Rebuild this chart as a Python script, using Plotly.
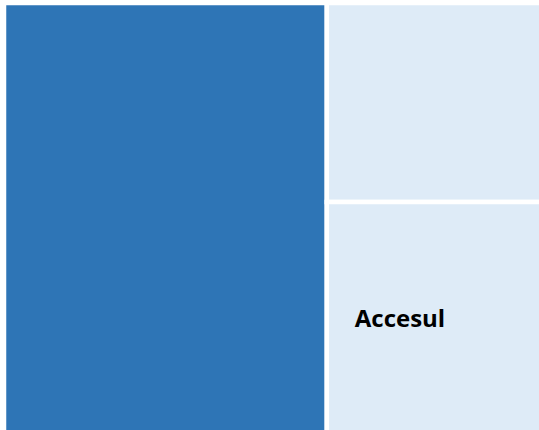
import plotly.graph_objects as go

labels = ["Categoria principală", "Altele", "Accesul"]
parents = ["", "", ""]
values = [60.0, 18.5, 21.5]
shown_text = ["", "", "\u00a0\u00a0\u00a0\u00a0Accesul"]
colors = ["#2E75B6", "#DEEBF7", "#DEEBF7"]

fig = go.Figure(go.Treemap(
    labels=labels,
    parents=parents,
    values=values,
    text=shown_text,
    texttemplate="%{text}",
    textposition="middle left",
    textfont=dict(family="Open Sans", size=24, color="#000000", weight="bold"),
    marker=dict(colors=colors, line=dict(color="#FFFFFF", width=4.5),
                pad=dict(t=0, l=0, r=0, b=0)),
    tiling=dict(pad=0),
    sort=False,
    pathbar=dict(visible=False),
    hoverinfo="label+value",
))

fig.update_layout(
    width=542, height=433,
    margin=dict(l=4, r=0, t=3, b=0),
    paper_bgcolor="#FFFFFF",
    showlegend=False,
)

fig.write_html(
    "out.html",
    config={"displayModeBar": False},
    post_script="document.body.style.margin='0';document.body.style.overflow='hidden';document.documentElement.style.overflow='hidden';",
)
